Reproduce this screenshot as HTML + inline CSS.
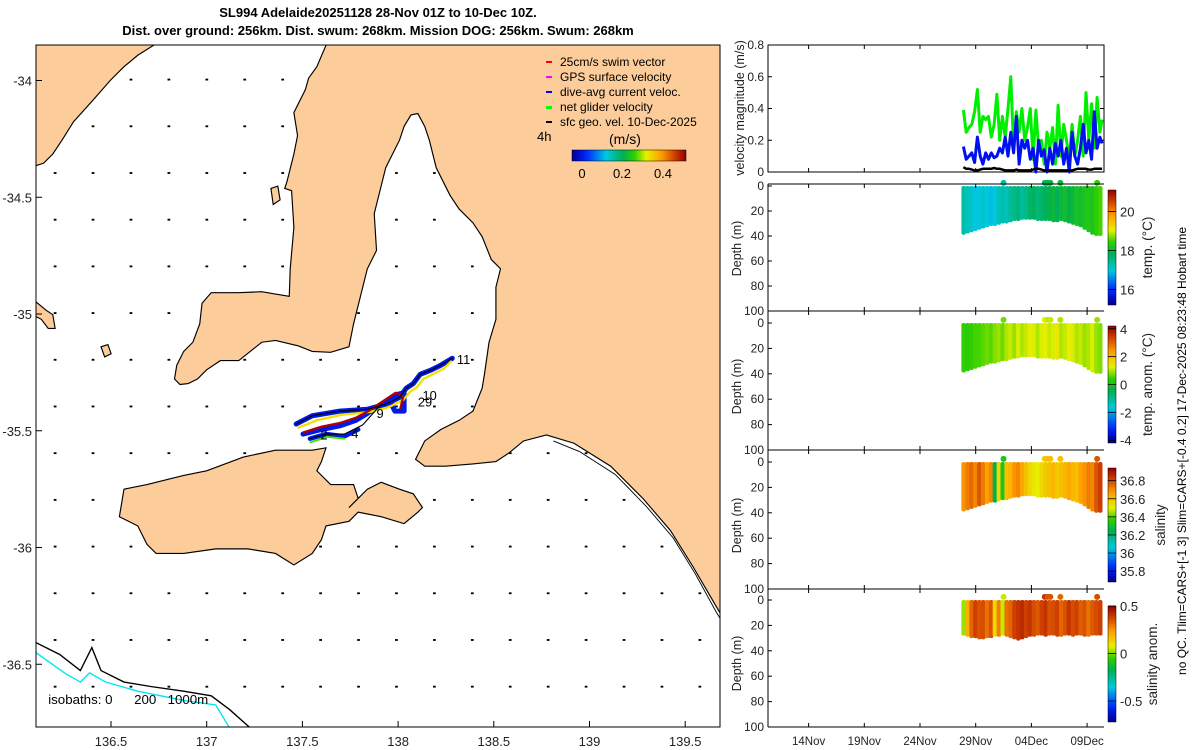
<!DOCTYPE html>
<html><head><meta charset="utf-8">
<style>
html,body{margin:0;padding:0;background:#fff;}
svg{display:block;font-family:"Liberation Sans","DejaVu Sans",sans-serif;}
</style></head>
<body>
<svg id="root" width="1200" height="750" viewBox="0 0 1200 750" xmlns="http://www.w3.org/2000/svg">
<text x="378" y="17" text-anchor="middle" font-size="13" font-weight="bold">SL994 Adelaide20251128 28-Nov 01Z to 10-Dec 10Z.</text>
<text x="378" y="35" text-anchor="middle" font-size="13" font-weight="bold">Dist. over ground: 256km. Dist. swum: 268km. Mission DOG: 256km. Swum: 268km</text>

<g id="map">
 <clipPath id="mapclip"><rect x="36" y="45" width="684" height="682"/></clipPath>
 <rect x="36" y="45" width="684" height="682" fill="#fff"/>
 <g clip-path="url(#mapclip)">
  <g transform="translate(0,30) scale(0.45918)">
   <g id="vecgrid"></g>
   <path fill="#fccc9a" stroke="#000" stroke-width="2.5" d="M710,33 L690,80 L672,105 L665,130 L640,180 L648,230 L640,270 L625,330 L620,345 L635,350 L640,430 L632,520 L630,580 L600,575 L570,570 L520,572 L460,572 L440,595 L435,640 L420,680 L400,700 L385,730 L380,760 L392,772 L410,770 L430,760 L450,740 L480,720 L520,720 L545,700 L570,680 L600,676 L650,688 L680,700 L720,702 L760,690 L770,640 L780,600 L800,520 L820,480 L815,400 L830,340 L840,300 L870,240 L880,210 L895,185 L910,182 L925,210 L935,240 L950,300 L980,360 L1000,390 L1030,420 L1050,450 L1070,500 L1090,520 L1080,560 L1080,630 L1065,680 L1055,750 L1050,780 L1030,830 L1000,850 L960,870 L925,895 L905,935 L925,950 L970,950 L1030,945 L1080,940 L1110,920 L1140,895 L1190,882 L1250,900 L1330,950 L1400,1020 L1460,1090 L1510,1170 L1545,1230 L1580,1290 L1600,1290 L1600,0 L700,0 Z"/>
   <path fill="#fccc9a" stroke="#000" stroke-width="2.5" d="M60,0 L345,0 L335,33 L300,55 L270,80 L240,110 L205,150 L160,200 L135,240 L115,270 L95,290 L80,295 L60,295 Z"/>
   <path fill="#fccc9a" stroke="#000" stroke-width="2.5" d="M270,1000 L320,990 L400,970 L450,960 L530,930 L600,915 L680,915 L710,910 L700,940 L690,960 L720,990 L770,990 L780,1020 L760,1040 L800,1000 L830,985 L870,1000 L900,1010 L920,1040 L910,1050 L880,1075 L830,1060 L780,1050 L760,1070 L710,1080 L700,1110 L680,1140 L640,1165 L600,1140 L540,1130 L470,1130 L400,1140 L340,1140 L320,1120 L300,1080 L260,1060 Z"/>
   <path fill="#fccc9a" stroke="#000" stroke-width="2.5" d="M70,585 L100,610 L115,620 L120,650 L105,650 L90,630 L70,620 Z"/>
   <path fill="#fccc9a" stroke="#000" stroke-width="2.5" d="M590,345 L605,340 L610,370 L595,380 Z"/>
   <path fill="#fccc9a" stroke="#000" stroke-width="2.5" d="M220,690 L235,685 L242,705 L228,712 Z"/>
   <polyline fill="none" stroke="#000" stroke-width="2" points="1205,895 1262,918 1340,968 1408,1038 1466,1106 1514,1184 1560,1268 1580,1300"/>
   <polyline fill="none" stroke="#000" stroke-width="3" points="70,1330 130,1360 175,1395 200,1345 220,1395 270,1420 330,1430 400,1440 460,1450 500,1480 545,1520"/>
   <polyline fill="none" stroke="#00e5f0" stroke-width="3" points="70,1350 140,1400 175,1420 195,1400 230,1420 300,1440 400,1460 470,1470 500,1520"/>
   <g fill="none" stroke-linejoin="round" stroke-linecap="round">
    <polyline stroke="#0018e8" stroke-width="11" points="645,858 680,840 740,830 800,826 840,815 870,800 885,780 900,770 915,750 940,740 960,730 985,715"/>
    <polyline stroke="#0018e8" stroke-width="11" points="660,880 700,870 740,862 775,850 800,835 830,815 860,795 880,790 880,830 860,830 850,810"/>
    <polyline stroke="#0018e8" stroke-width="10" points="675,890 710,880 750,885 780,870"/>
    <polyline stroke="#f0e000" stroke-width="5" points="650,866 690,850 745,838 805,832 845,822 878,806 893,788 908,778 922,760 946,748 966,738 982,722"/>
    <polyline stroke="#40e000" stroke-width="4" points="676,898 712,886 750,890"/>
    <polyline stroke="#b00000" stroke-width="5" points="662,876 700,864 740,856 776,844 802,830 832,810 862,790 878,798 872,824"/>
    <polyline stroke="#000" stroke-width="2.5" points="645,858 680,840 740,830 800,826 840,815 870,800 885,780 900,770 915,750 940,740 960,730 985,715"/>
    <polyline stroke="#000" stroke-width="2.5" points="675,890 710,880 750,880 790,860 830,815"/>
   </g>
   <g font-size="28">
    <text x="995" y="727">11</text><text x="920" y="806">10</text><text x="910" y="820">29</text>
    <text x="820" y="845">9</text><text x="765" y="888">4</text><text x="698" y="892">2</text>
   </g>
   <g font-size="29">
    <text x="105" y="1468">isobaths: 0</text><text x="292" y="1468">200</text><text x="365" y="1468">1000m</text>
   </g>
  </g>
 </g>
 <rect x="36" y="45" width="684" height="682" fill="none" stroke="#000" stroke-width="1"/>
 <g id="maplegend" font-size="12">
  <rect x="546" y="61" width="6" height="2" fill="#f00"/><text x="560" y="66">25cm/s swim vector</text>
  <rect x="546" y="76" width="6" height="2" fill="#f0f"/><text x="560" y="81">GPS surface velocity</text>
  <rect x="546" y="91" width="6" height="2" fill="#00f"/><text x="560" y="96">dive-avg current veloc.</text>
  <rect x="546" y="106" width="6" height="3" fill="#0f0"/><text x="560" y="111">net glider velocity</text>
  <rect x="546" y="121" width="6" height="2" fill="#000"/><text x="560" y="126">sfc geo. vel. 10-Dec-2025</text>
  <text x="537" y="141" font-size="13">4h</text>
  <text x="609" y="144" font-size="14">(m/s)</text>
  <rect id="mapcb" x="572" y="150" width="114" height="11" stroke="#000" stroke-width="0.5"/>
  <text x="582" y="178" text-anchor="middle" font-size="13">0</text>
  <text x="622" y="178" text-anchor="middle" font-size="13">0.2</text>
  <text x="663" y="178" text-anchor="middle" font-size="13">0.4</text>
 </g>
 <g id="mapticks" font-size="13" fill="#222"></g>
</g>

<g id="right"></g>
<text transform="translate(1186,451) rotate(-90)" text-anchor="middle" font-size="12">no QC. Tlim=CARS+[-1 3] Slim=CARS+[-0.4 0.2] 17-Dec-2025 08:23:48 Hobart time</text>
</svg>

<script>
// ---------- data ----------
const mapXTicks = [136.5, 137, 137.5, 138, 138.5, 139, 139.5];
const mapYTicks = [-34, -34.5, -35, -35.5, -36, -36.5];
const velTimes = [27.9,28.15,28.4,28.65,28.9,29.15,29.4,29.65,29.9,30.15,30.4,30.65,30.9,31.15,31.4,31.65,31.9,32.15,32.4,32.65,32.9,33.15,33.4,33.65,33.9,34.15,34.4,34.65,34.9,35.15,35.4,35.65,35.9,36.15,36.4,36.65,36.9,37.15,37.4,37.65,37.9,38.15,38.4,38.65,38.9,39.15,39.4,39.65,39.9,40.15,40.35];
const netGliderVel = [0.39,0.25,0.28,0.30,0.38,0.52,0.25,0.35,0.33,0.35,0.22,0.30,0.49,0.20,0.35,0.22,0.40,0.60,0.15,0.38,0.25,0.40,0.20,0.28,0.40,0.08,0.39,0.15,0.20,0.05,0.25,0.15,0.28,0.05,0.42,0.10,0.30,0.20,0.08,0.30,0.10,0.20,0.35,0.10,0.50,0.20,0.43,0.15,0.47,0.25,0.33];
const diveAvgVel = [0.16,0.08,0.10,0.12,0.06,0.22,0.10,0.05,0.12,0.08,0.12,0.09,0.10,0.15,0.12,0.22,0.10,0.25,0.12,0.35,0.05,0.20,0.15,0.20,0.08,0.15,0.00,0.20,0.10,0.14,0.00,0.15,0.05,0.18,0.10,0.20,0.05,0.15,0.00,0.25,0.10,0.05,0.15,0.30,0.12,0.20,0.08,0.38,0.15,0.22,0.18];
const sfcGeoVel = [0.03,0.02,0.02,0.015,0.01,0.01,0.015,0.02,0.02,0.02,0.02,0.025,0.02,0.02,0.015,0.01,0.01,0.01,0.01,0.015,0.01,0.01,0.01,0.01,0.01,0.015,0.02,0.02,0.015,0.01,0.01,0.01,0.01,0.01,0.01,0.01,0.01,0.01,0.01,0.01,0.015,0.02,0.02,0.02,0.02,0.015,0.015,0.02,0.02,0.02,0.02];
const velTicks = [0, 0.2, 0.4, 0.6, 0.8];
const timeTickDays = [14, 19, 24, 29, 34, 39];
const timeTickLabels = ["14Nov","19Nov","24Nov","29Nov","04Dec","09Dec"];
const depthTicks = [0, 20, 40, 60, 80, 100];
const profTimes = [27.9,28.25,28.6,28.95,29.3,29.65,30.0,30.35,30.7,31.05,31.4,31.75,32.1,32.45,32.8,33.15,33.5,33.85,34.2,34.55,34.9,35.25,35.6,35.95,36.3,36.65,37.0,37.35,37.7,38.05,38.4,38.75,39.1,39.45,39.8,40.15];
const profBottom = [39,38,37,36,35,34,33,32,32,31,30,30,29,28,28,27,27,27,27,28,28,28,28,29,29,28,29,30,31,32,33,35,37,39,40,40];
const sanomBottom = [28,29,30,30,31,31,30,30,29,29,28,29,30,31,32,31,30,29,29,28,28,29,28,28,29,29,28,28,29,28,28,29,29,28,28,28];
const tempVals = [17.3,17.2,17.1,17.0,17.0,17.1,17.0,16.9,17.0,17.2,17.3,17.2,17.4,17.5,17.6,17.4,17.5,17.7,17.8,17.6,17.7,17.8,17.9,18.0,17.8,18.0,18.1,17.9,18.0,18.2,18.1,18.2,18.3,18.2,18.4,18.5];
const tanomVals = [0.4,0.3,0.4,0.5,0.5,0.6,0.7,0.6,0.8,0.9,0.7,1.0,1.1,0.9,1.2,1.0,1.1,1.3,1.2,1.0,1.2,1.3,1.1,1.2,1.4,1.0,1.1,1.3,1.2,1.0,1.1,0.9,1.0,1.2,0.9,0.8];
const salVals = [36.68,36.72,36.75,36.70,36.78,36.72,36.66,36.70,36.25,36.55,36.32,36.60,36.62,36.68,36.70,36.65,36.60,36.55,36.52,36.50,36.55,36.58,36.60,36.62,36.58,36.60,36.62,36.65,36.62,36.60,36.66,36.68,36.72,36.70,36.78,36.82];
const sanomVals = [0.02,0.20,0.32,0.38,0.35,0.36,0.30,0.35,0.12,0.28,0.05,0.30,0.32,0.38,0.40,0.42,0.38,0.40,0.36,0.34,0.38,0.40,0.35,0.36,0.38,0.32,0.35,0.40,0.36,0.38,0.33,0.35,0.30,0.34,0.36,0.38];
const surfDotTimes = [31.5, 35.2, 35.45, 35.7, 36.6, 39.9];
const tempCbTicks = [16, 18, 20];
const tanomCbTicks = [4, 2, 0, -2, -4];
const salCbTicks = [36.8, 36.6, 36.4, 36.2, 36, 35.8];
const sanomCbTicks = [0.5, 0, -0.5];

const NS = "http://www.w3.org/2000/svg";
function mk(tag, attrs, parent){ const e=document.createElementNS(NS,tag); for(const k in attrs) e.setAttribute(k,attrs[k]); parent.appendChild(e); return e; }

const stops=[[0,[0,0,143]],[0.12,[0,32,255]],[0.3,[0,200,224]],[0.45,[0,176,80]],[0.55,[48,208,0]],[0.65,[232,240,0]],[0.78,[255,160,0]],[0.9,[208,64,0]],[1,[144,0,0]]];
function cmap(t){ t=Math.max(0,Math.min(1,t)); for(let i=1;i<stops.length;i++){ if(t<=stops[i][0]){ const a=stops[i-1],b=stops[i]; const f=(t-a[0])/(b[0]-a[0]); const c=a[1].map((v,j)=>Math.round(v+(b[1][j]-v)*f)); return `rgb(${c[0]},${c[1]},${c[2]})`; } } return 'rgb(144,0,0)'; }

const svg=document.getElementById('root');
const defs=mk('defs',{},svg);
function gradient(id, vertical){
  const g=mk('linearGradient',{id:id,x1:0,y1:vertical?1:0,x2:vertical?0:1,y2:0},defs);
  for(let i=0;i<=20;i++){ mk('stop',{offset:(i/20),'stop-color':cmap(i/20)},g); }
}
gradient('cbh',false); gradient('cbv',true);
document.getElementById('mapcb').setAttribute('fill','url(#cbh)');

const vg=document.getElementById('vecgrid');
for(let r=0;r<14;r++){ for(let c=0;c<18;c++){
  const x=120+c*82.6, y=108+r*101.7;
  const d=mk('rect',{x:x-3,y:y-2,width:6,height:4,fill:'#000'},vg);
  
  
}}

const mt=document.getElementById('mapticks');
const lonX=v=>111+(v-136.5)*191.4, latY=v=>80.5+(-34-v)*233.5;
mapXTicks.forEach(v=>{ const x=lonX(v);
  mk('line',{x1:x,y1:727,x2:x,y2:721,stroke:'#000'},mt);
  const t=mk('text',{x:x,y:746,'text-anchor':'middle'},mt); t.textContent=String(v);
    });
mapYTicks.forEach(v=>{ const y=latY(v);
  mk('line',{x1:36,y1:y,x2:42,y2:y,stroke:'#000'},mt);
  const t=mk('text',{x:32,y:y+5,'text-anchor':'end'},mt); t.textContent=String(v);
    });

const R=document.getElementById('right');
const X0=768, X1=1104;
const tx=d=>975.7+(d-29)*11.14;
function timeTicks(top,bottom,labels){
  timeTickDays.forEach((d,i)=>{ const x=tx(d);
    mk('line',{x1:x,y1:bottom,x2:x,y2:bottom-4,stroke:'#000'},R);
    mk('line',{x1:x,y1:top,x2:x,y2:top+4,stroke:'#000'},R);
    if(labels){ const t=mk('text',{x:x,y:745,'text-anchor':'middle','font-size':11.5,fill:'#222'},R); t.textContent=timeTickLabels[i];
        }
  });
}
const vTop=45, vBot=172, vy=v=>vBot-v*(vBot-vTop)/0.8;
const vp=mk('g',{},R);  
mk('rect',{x:X0,y:vTop,width:X1-X0,height:vBot-vTop,fill:'none',stroke:'#000'},vp);
velTicks.forEach(v=>{ const y=vy(v); mk('line',{x1:X0,y1:y,x2:X0+4,y2:y,stroke:'#000'},vp); mk('line',{x1:X1,y1:y,x2:X1-4,y2:y,stroke:'#000'},vp);
  const t=mk('text',{x:764,y:y+4,'text-anchor':'end','font-size':12,fill:'#222'},vp); t.textContent=String(v);
    });
function series(vals,color,w,name){ const p=mk('polyline',{fill:'none',stroke:color,'stroke-width':w,'stroke-linejoin':'round',points:vals.map((v,i)=>tx(velTimes[i]).toFixed(1)+','+vy(v).toFixed(1)).join(' ')},vp);
    }
series(netGliderVel,'#00ee00',3,'net-glider-velocity-line');
series(diveAvgVel,'#0010ee',3,'dive-avg-current-line');
series(sfcGeoVel,'#000',2.5,'sfc-geo-velocity-line');
timeTicks(vTop,vBot,false);
const vl=mk('text',{transform:'translate(744,108) rotate(-90)','text-anchor':'middle','font-size':12.5,fill:'#222'},R); vl.textContent='velocity magnitude (m/s)';
 

const panels=[
 {name:'temperature',top:184,bot:311,d0:186,vals:tempVals,bottoms:profBottom,vmin:15.2,vmax:21.1,cbTop:190,cbBot:305,ticks:tempCbTicks,title:'temp. (°C)',tx:1152},
 {name:'temperature-anomaly',top:311,bot:450,d0:323,vals:tanomVals,bottoms:profBottom,vmin:-4.2,vmax:4.2,cbTop:326,cbBot:443,ticks:tanomCbTicks,title:'temp. anom. (°C)',tx:1152},
 {name:'salinity',top:450,bot:589,d0:462,vals:salVals,bottoms:profBottom,vmin:35.68,vmax:36.94,cbTop:468,cbBot:582,ticks:salCbTicks,title:'salinity',tx:1165},
 {name:'salinity-anomaly',top:589,bot:727,d0:600,vals:sanomVals,bottoms:sanomBottom,vmin:-0.72,vmax:0.5,cbTop:606,cbBot:722,ticks:sanomCbTicks,title:'salinity anom.',tx:1157}
];
panels.forEach((P,pi)=>{
  const g=mk('g',{},R);  
  const dy=d=>P.d0+d*(P.bot-P.d0)/100;
  const norm=v=>(v-P.vmin)/(P.vmax-P.vmin);
  for(let i=0;i<profTimes.length;i++){
    const xa=i===0?tx(profTimes[0])-2:(tx(profTimes[i-1])+tx(profTimes[i]))/2;
    const xb=i===profTimes.length-1?tx(profTimes[i])+2:(tx(profTimes[i])+tx(profTimes[i+1]))/2;
    const r=mk('rect',{x:xa.toFixed(1),y:dy(0).toFixed(1),width:(xb-xa+0.6).toFixed(1),height:(dy(P.bottoms[i])-dy(0)).toFixed(1),fill:cmap(norm(P.vals[i])),rx:2},g);
     
  }
  surfDotTimes.forEach(t=>{ let k=0; for(let i=0;i<profTimes.length;i++) if(Math.abs(profTimes[i]-t)<Math.abs(profTimes[k]-t)) k=i;
    const c=mk('circle',{cx:tx(t),cy:dy(-2.5),r:3,fill:cmap(norm(P.vals[k]))},g);
      });
  mk('line',{x1:X0,y1:P.top,x2:X1,y2:P.top,stroke:'#000'},g);
  mk('line',{x1:X0,y1:P.top,x2:X0,y2:P.bot,stroke:'#000'},g);
  if(pi===3) mk('line',{x1:X0,y1:P.bot,x2:X1,y2:P.bot,stroke:'#000'},g);
  depthTicks.forEach(d=>{ const y=dy(d); mk('line',{x1:X0,y1:y,x2:X0+4,y2:y,stroke:'#000'},g);
    const t=mk('text',{x:764,y:y+4,'text-anchor':'end','font-size':12,fill:'#222'},g); t.textContent=String(d);
      });
  const yl=mk('text',{transform:`translate(741,${(P.d0+P.bot)/2}) rotate(-90)`,'text-anchor':'middle','font-size':12.5,fill:'#222'},g); yl.textContent='Depth (m)';
   
  timeTicks(P.top,P.bot,pi===3);
  const cb=mk('rect',{x:1108,y:P.cbTop,width:8,height:P.cbBot-P.cbTop,fill:'url(#cbv)',stroke:'#000','stroke-width':0.5},g);
   
  P.ticks.forEach(v=>{ const y=P.cbBot-(v-P.vmin)/(P.vmax-P.vmin)*(P.cbBot-P.cbTop);
    mk('line',{x1:1108,y1:y,x2:1116,y2:y,stroke:'#000','stroke-width':0.8},g);
    const t=mk('text',{x:1120,y:y+5,'font-size':13,fill:'#222'},g); t.textContent=String(v);
      });
  const ct=mk('text',{transform:`translate(${P.tx},${(P.cbTop+P.cbBot)/2}) rotate(-90)`,'text-anchor':'middle','font-size':13.5,fill:'#222'},g); ct.textContent=P.title;
   
});
</script>
</body></html>
